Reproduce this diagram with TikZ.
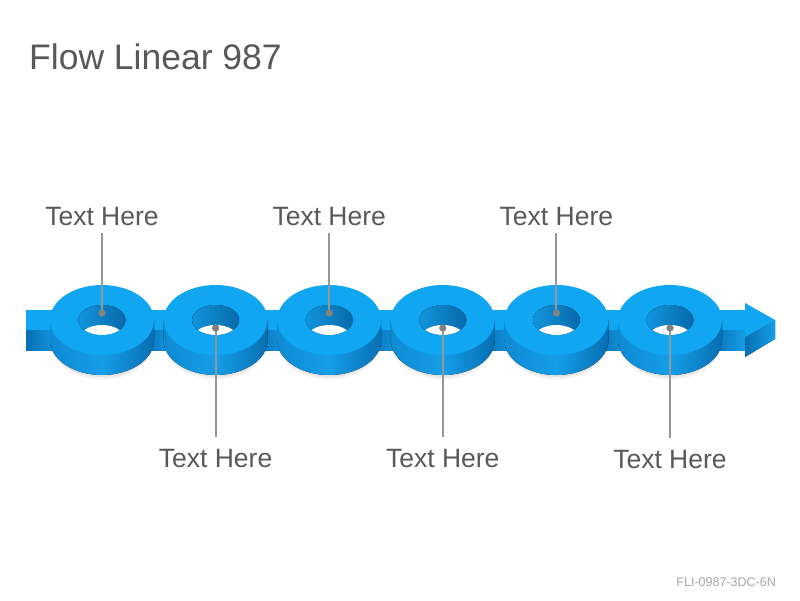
\documentclass[tikz,border=0pt]{standalone}
\usepackage{fontspec}
\setmainfont{Liberation Sans}
\definecolor{topc}{RGB}{17,166,242}
\definecolor{sidel}{RGB}{14,138,210}
\definecolor{sidem}{RGB}{20,158,232}
\definecolor{sided}{RGB}{8,110,178}
\definecolor{walll}{RGB}{18,148,220}
\definecolor{walld}{RGB}{6,106,170}
\definecolor{txtc}{RGB}{89,89,89}
\definecolor{linec}{RGB}{150,150,150}
\definecolor{dotc}{RGB}{130,130,130}
\definecolor{footc}{RGB}{166,166,166}
\tikzset{
  lbl/.style={font=\fontsize{26.5}{31}\selectfont, text=txtc, inner sep=0pt, anchor=base},
  ttl/.style={font=\fontsize{35.5}{42}\selectfont, text=txtc, inner sep=0pt, anchor=base west},
  foot/.style={font=\fontsize{12.5}{15}\selectfont, text=footc, inner sep=0pt, anchor=base east},
  leader/.style={draw=linec, line width=2pt},
  dotn/.style={circle, fill=dotc, minimum size=7pt, inner sep=0pt},
  topface/.style={fill=topc},
  sideface/.style={left color=sidel, right color=sided, middle color=sidem},
  wallface/.style={left color=walll, right color=walld},
  barfront/.style={left color=sided, right color=sidem}
}
\begin{document}
\begin{tikzpicture}[x=1pt,y=-1pt]
\useasboundingbox (0,0) rectangle (800,600);
\fill[white] (0,0) rectangle (800,600);
% title and footer
\node[ttl] (title) at (29,69) {Flow Linear 987};
\node[foot] (footer) at (776,586) {FLI-0987-3DC-6N};
% bar front faces
\fill[barfront] (26,330) rectangle (60,350);
\foreach \i in {0,...,4}{
  \pgfmathsetmacro{\xa}{102+113.6*\i+40}
  \pgfmathsetmacro{\xb}{102+113.6*(\i+1)-40}
  \fill[barfront] (\xa,330) rectangle (\xb,350);
}
\fill[barfront] (710,330) rectangle (746,350);
% arrow head front face
\fill[left color=sided, right color=sidem] (745,337) -- (775,320) -- (775,339) -- (745,357) -- cycle;
% bar top face and head top face
\fill[topface] (26,310) rectangle (746,330);
\fill[topface] (745,303) -- (775,320) -- (745,337) -- cycle;
% rings
\foreach \i in {0,...,5}{
  \pgfmathsetmacro{\cx}{102+113.6*\i}
  % soft shadow hugging the bottom edge
  \fill[black,opacity=0.05] (\cx,342) ellipse[x radius=51.5,y radius=37.5];
  \fill[black,opacity=0.06] (\cx,341) ellipse[x radius=51,y radius=36];
  % side
  \fill[sideface] (\cx+52,320) -- (\cx+52,340) arc[start angle=0,end angle=180,x radius=52,y radius=35] -- (\cx-52,320) -- cycle;
  % top face
  \fill[topface] (\cx,320) ellipse[x radius=52,y radius=35];
  % hole wall
  \fill[wallface] (\cx,320) ellipse[x radius=23.5,y radius=15];
  % see-through part of the hole
  \begin{scope}
    \clip (\cx,320) ellipse[x radius=23.5,y radius=15];
    \fill[white] (\cx,340) ellipse[x radius=23.5,y radius=15];
  \end{scope}
}
% labels above
\node[lbl] (t1) at (102,225) {Text Here};
\node[lbl] (t3) at (329.2,225) {Text Here};
\node[lbl] (t5) at (556.4,225) {Text Here};
\coordinate (a1) at (102,233);
\coordinate (a3) at (329.2,233);
\coordinate (a5) at (556.4,233);
\node[dotn] (d1) at (102,313) {};
\node[dotn] (d3) at (329.2,313) {};
\node[dotn] (d5) at (556.4,313) {};
\draw[leader] (a1) -- (d1.center);
\draw[leader] (a3) -- (d3.center);
\draw[leader] (a5) -- (d5.center);
% labels below
\node[lbl] (t2) at (215.6,467) {Text Here};
\node[lbl] (t4) at (442.8,467) {Text Here};
\node[lbl] (t6) at (670,468) {Text Here};
\coordinate (b2) at (215.6,437);
\coordinate (b4) at (442.8,437);
\coordinate (b6) at (670,438);
\node[dotn] (d2) at (215.6,328) {};
\node[dotn] (d4) at (442.8,328) {};
\node[dotn] (d6) at (670,328) {};
\draw[leader] (d2.center) -- (b2);
\draw[leader] (d4.center) -- (b4);
\draw[leader] (d6.center) -- (b6);
\node[dotn] at (d1) {};
\node[dotn] at (d3) {};
\node[dotn] at (d5) {};
\node[dotn] at (d2) {};
\node[dotn] at (d4) {};
\node[dotn] at (d6) {};
\end{tikzpicture}
\end{document}
